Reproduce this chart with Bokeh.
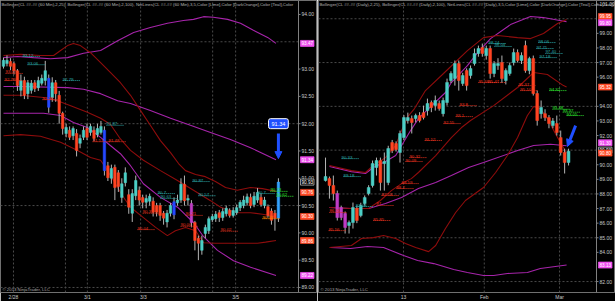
from bokeh.plotting import figure
from bokeh.layouts import row
from bokeh.models import (ColumnDataSource, FixedTicker, Label, Arrow, NormalHead, Range1d)
from bokeh.core.properties import value
from bokeh.embed import file_html
from bokeh.resources import INLINE

# ---------------- Left panel: 60 Min bars ----------------
L_open = [93.05, 93.10, 93.14, 93.10, 92.97, 92.61, 92.79, 92.55, 92.61, 92.75,
          92.66, 92.74, 92.79, 92.83, 92.48, 92.75, 92.52, 92.19, 91.82, 91.88,
          91.78, 91.82, 91.64, 91.75, 91.91, 91.84, 91.88, 91.80, 91.84, 91.88,
          91.23, 91.00, 91.20, 91.10, 90.65, 90.92, 90.70, 90.36, 90.68, 90.78,
          90.65, 90.56, 90.58, 90.58, 90.50, 90.50, 90.36, 90.20, 90.36, 90.33,
          90.55, 90.60, 90.89, 90.60, 90.54, 90.19, 89.90, 89.68, 89.99, 90.04,
          90.24, 90.26, 90.37, 90.28, 90.35, 90.41, 90.32, 90.37, 90.46, 90.50,
          90.55, 90.65, 90.52, 90.60, 90.65, 90.50, 90.48, 90.40, 90.36, 90.27]
L_high = [93.21, 93.25, 93.20, 93.14, 93.00, 92.90, 92.86, 92.80, 92.80, 92.80,
          92.86, 92.90, 93.15, 92.90, 92.85, 92.80, 92.60, 92.22, 92.00, 91.95,
          91.95, 91.90, 91.80, 91.95, 92.00, 92.00, 91.95, 92.00, 92.05, 91.95,
          91.30, 91.25, 91.25, 91.15, 91.00, 91.20, 90.80, 90.80, 91.05, 90.85,
          90.70, 90.70, 90.72, 90.65, 90.55, 90.55, 90.40, 90.42, 90.55, 90.65,
          90.70, 91.00, 91.05, 90.70, 90.60, 90.22, 89.95, 89.95, 90.15, 90.30,
          90.35, 90.40, 90.42, 90.45, 90.50, 90.45, 90.47, 90.52, 90.60, 90.68,
          90.72, 90.72, 90.75, 90.82, 90.72, 90.66, 90.52, 90.45, 90.42, 91.00]
L_low = [93.01, 93.05, 92.98, 92.90, 92.60, 92.50, 92.45, 92.45, 92.55, 92.58,
         92.60, 92.70, 92.70, 92.20, 92.40, 92.40, 92.00, 91.80, 91.75, 91.70,
         91.70, 91.40, 91.55, 91.70, 91.70, 91.78, 91.68, 91.75, 91.80, 91.05,
         90.95, 90.90, 90.60, 90.75, 90.55, 90.85, 90.35, 90.20, 90.60, 90.50,
         90.45, 90.45, 90.50, 90.30, 90.30, 90.22, 90.15, 90.10, 90.30, 90.25,
         90.50, 90.55, 90.50, 90.50, 90.10, 89.68, 89.50, 89.60, 89.90, 89.98,
         90.20, 90.20, 90.20, 90.22, 90.30, 90.28, 90.28, 90.33, 90.40, 90.45,
         90.50, 90.45, 90.47, 90.55, 90.48, 90.45, 90.28, 90.15, 90.04, 90.20]
L_close = [93.16, 93.16, 93.05, 92.97, 92.70, 92.79, 92.52, 92.75, 92.74, 92.64,
           92.79, 92.83, 92.97, 92.30, 92.75, 92.55, 92.19, 91.91, 91.93, 91.75,
           91.91, 91.51, 91.73, 91.88, 91.75, 91.95, 91.73, 91.91, 91.95, 91.14,
           91.01, 91.18, 90.83, 90.85, 90.90, 91.10, 90.47, 90.72, 90.96, 90.60,
           90.56, 90.63, 90.67, 90.38, 90.38, 90.32, 90.27, 90.36, 90.50, 90.57,
           90.60, 90.89, 90.59, 90.63, 90.19, 89.86, 89.81, 89.86, 90.10, 90.26,
           90.30, 90.34, 90.28, 90.39, 90.45, 90.32, 90.41, 90.46, 90.56, 90.60,
           90.66, 90.50, 90.67, 90.74, 90.52, 90.60, 90.32, 90.23, 90.27, 90.93]
L_kind = ["u", "u", "d", "d", "d", "u", "d", "u", "u", "d",
          "u", "u", "u", "b", "u", "d", "d", "d", "u", "d",
          "u", "d", "u", "u", "d", "u", "d", "u", "u", "b",
          "d", "u", "d", "d", "u", "u", "d", "u", "u", "d",
          "d", "u", "u", "d", "d", "d", "d", "u", "u", "b",
          "u", "u", "d", "u", "m", "d", "d", "u", "u", "u",
          "u", "u", "d", "u", "u", "d", "u", "u", "u", "u",
          "u", "d", "u", "u", "d", "u", "d", "d", "d", "s"]

L_ticks = [2.87, 24.1, 40.2, 66.7]
L_tick_labels = ["2/28", "3/1", "3/3", "3/5"]
L_vgrid = [2.87, 17.8, 24.1, 39.4, 60.1, 66.7]
L_yticks = [89.0, 89.5, 90.0, 90.5, 91.0, 91.5, 92.0, 92.5, 93.0, 93.5, 94.0]
L_hidden_yticks = [93.5]
L_hgrid = [89.0, 90.5, 92.0, 93.5]

# Bollinger (2,25) - dark red
L_bb25u_x = [0, 4.9, 10.6, 14.4, 16.4, 18.4, 20.1, 22.1, 25, 27.9, 30.7, 33.6, 36.5,
             39.4, 42.2, 45.1, 48, 50.3, 52.3, 55.2, 58, 60.9, 63.8, 67.2, 71, 74.4, 78.3]
L_bb25u_y = [93.25, 93.27, 93.25, 93.25, 93.34, 93.43, 93.47, 93.43, 93.30, 93.12, 92.94,
             92.75, 92.52, 92.24, 91.97, 91.69, 91.47, 91.27, 91.14, 91.07, 91.03, 90.94,
             90.83, 90.78, 90.83, 90.81, 90.76]
L_bb25m_x = [0, 4.9, 11.5, 15.5, 19.3, 24.1, 27.9, 30.7, 33.6, 36.5, 40.2, 45.1, 50,
             54.6, 59.5, 62.4, 67.2, 71, 74.4, 78.3]
L_bb25m_y = [92.52, 92.52, 92.48, 92.42, 92.33, 92.21, 92.10, 91.99, 91.72, 91.51, 91.33,
             91.14, 90.96, 90.78, 90.59, 90.47, 90.37, 90.37, 90.34, 90.30]
L_bb25l_x = [0, 4.9, 10.6, 16.4, 21.3, 25, 27.9, 29.3, 31.6, 34.2, 36.5, 40.2, 43.7,
             47.1, 49.4, 52.3, 55.2, 57.5, 60.9, 66.1, 73, 75.3, 78.3]
L_bb25l_y = [91.78, 91.80, 91.77, 91.66, 91.51, 91.38, 91.33, 91.20, 90.96, 90.68, 90.47,
             90.28, 90.10, 89.95, 90.04, 90.10, 90.04, 89.82, 89.81, 89.81, 89.81, 89.83, 89.86]
# Bollinger (2,100) - magenta
L_bb100u_x = [0, 4, 8.6, 13.5, 18.4, 23, 27.9, 32.8, 37.4, 42.2, 47.1, 51.7, 54.6,
              57.5, 60.3, 64.4, 68.1, 71.8, 75.9, 78.3]
L_bb100u_y = [93.21, 93.23, 93.21, 93.19, 93.21, 93.29, 93.34, 93.52, 93.67, 93.76, 93.84,
              93.89, 93.91, 93.96, 93.95, 93.91, 93.84, 93.71, 93.58, 93.47]
L_bb100m_x = [0, 4.9, 18.4, 23, 27.9, 32.8, 36.5, 42.2, 48, 53.7, 59.5, 65.2, 71, 78.3]
L_bb100m_y = [92.68, 92.68, 92.66, 92.63, 92.55, 92.42, 92.37, 92.24, 92.10, 91.97, 91.84,
              91.71, 91.56, 91.34]
L_bb100l_x = [0, 11.5, 16.4, 20.1, 24.1, 27.9, 30.7, 33.6, 36.5, 40.2, 45.1, 50, 54.6,
              57.5, 61.5, 66.1, 71, 78.3]
L_bb100l_y = [92.19, 92.19, 92.15, 92.02, 91.93, 91.75, 91.60, 91.45, 91.23, 90.90, 90.65,
              90.47, 90.19, 89.93, 89.68, 89.49, 89.37, 89.22]

L_marker_vals = [93.47, 91.34, 90.93, 90.76, 90.30, 89.86, 89.22]
L_marker_kind = ["bb100", "bb100", "last", "bb25", "bb25", "bb25", "bb100"]
L_marker_nudge_px = [0, 0, 0, 1, 0, 0, 0]

L_lab_x = [5.5, 6.9, 0.6, 0.3, 17.0, 11.2, 29.6, 25.6, 30.2, 44.3, 45.1, 54.3, 56.0,
           40.0, 38.5, 52.3, 50.9, 62.4, 73.0, 76.7, 78.4, 74.4]
L_lab_y = [93.23, 93.08, 92.92, 92.79, 92.79, 92.44, 91.97, 91.67, 91.67, 90.72, 90.63,
           90.94, 90.68, 90.36, 90.06, 90.32, 90.12, 90.03, 90.72, 90.76, 90.67, 90.26]
L_lab_t = ["93.12", "93.06", "93.03", "92.79", "92.79", "92.38", "91.87", "91.57", "91.48",
           "90.7", "90.63", "90.87", "90.57", "90.33", "90.04", "90.21", "90.06", "90.02",
           "90.7", "90.73", "90.62", "90.33"]
L_lab_k = ["teal", "teal", "red", "red", "teal", "red", "teal", "red", "red", "teal", "teal",
           "teal", "teal", "red", "red", "red", "red", "red", "teal", "lime", "lime", "orange"]

L_callout_text = "91.34"
L_callout_xy = (79.0, 92.0)
L_arrow = (79.0, 91.82, 79.0, 91.36)

L_title = ("Bollinger(CL ##-## (60 Min),2,25), Bollinger(CL ##-## (60 Min),2,100), "
           "NetLines(CL ##-## (60 Min),3,5,Color [Lime],Color [DarkOrange],Color [Teal],Color")

# ---------------- Right panel: Daily bars ----------------
R_open = [88.92, 89.05, 88.58, 88.03, 87.07, 86.66, 85.84, 86.04, 87.00, 86.52,
          87.34, 88.03, 88.58, 89.81, 90.29, 90.08, 88.78, 91.52, 91.45, 90.84,
          91.86, 93.03, 93.16, 93.16, 93.37, 93.57, 93.71, 94.26, 94.05, 94.19,
          93.50, 94.26, 95.77, 95.90, 96.93, 95.56, 96.45, 96.11, 96.93, 97.62,
          98.03, 97.48, 97.96, 96.25, 96.79, 97.00, 95.77, 96.25, 97.00, 97.68,
          97.14, 98.16, 96.45, 97.27, 94.88, 93.50, 93.50, 93.23, 92.68, 92.82,
          91.86, 90.84, 90.15]
R_high = [90.49, 89.19, 89.26, 88.23, 87.20, 86.80, 86.18, 87.41, 87.20, 87.40,
          87.90, 88.60, 90.29, 90.49, 90.49, 90.84, 91.30, 91.70, 91.60, 92.34,
          93.40, 93.57, 93.37, 93.50, 93.60, 94.05, 94.53, 94.40, 94.74, 94.40,
          94.60, 95.90, 96.40, 97.14, 97.14, 96.30, 96.60, 96.80, 97.96, 98.16,
          98.30, 98.16, 98.16, 97.10, 97.30, 97.48, 96.60, 97.00, 97.96, 97.90,
          97.70, 98.50, 97.40, 97.48, 95.08, 94.40, 93.80, 93.40, 93.20, 93.37,
          92.34, 91.10, 91.10]
R_low = [88.85, 87.68, 87.55, 86.18, 86.20, 85.29, 85.29, 85.63, 86.00, 86.40,
         87.20, 87.90, 88.44, 89.26, 88.23, 88.23, 88.60, 90.80, 90.90, 90.15,
         91.70, 92.82, 92.14, 92.90, 92.90, 93.10, 93.37, 93.60, 93.71, 93.70,
         93.30, 94.05, 95.60, 95.42, 95.08, 95.40, 95.08, 95.90, 96.79, 97.40,
         97.40, 97.20, 95.90, 96.00, 96.50, 95.60, 95.50, 96.10, 96.80, 97.00,
         96.90, 96.30, 96.20, 94.74, 92.68, 93.16, 93.00, 92.50, 92.50, 92.00,
         90.63, 89.40, 89.95]
R_close = [89.19, 88.58, 88.03, 86.38, 86.38, 85.70, 86.04, 87.07, 86.18, 87.21,
           87.75, 88.44, 90.08, 90.29, 88.78, 90.22, 91.11, 90.97, 91.04, 92.14,
           93.23, 93.23, 92.89, 93.37, 93.03, 93.23, 94.19, 93.92, 94.40, 93.85,
           94.40, 95.63, 96.25, 96.93, 95.77, 96.11, 95.42, 96.59, 97.62, 97.96,
           97.62, 97.96, 96.25, 96.93, 96.93, 95.90, 96.45, 96.79, 97.68, 97.14,
           97.48, 96.45, 97.27, 94.88, 93.03, 93.92, 93.23, 92.82, 93.00, 92.21,
           90.84, 90.15, 90.93]
R_kind = ["u", "d", "d", "m", "m", "m", "u", "u", "d", "u",
          "u", "u", "u", "u", "d", "u", "u", "d", "d", "u",
          "u", "u", "d", "u", "d", "d", "u", "d", "u", "d",
          "u", "u", "u", "u", "d", "u", "d", "u", "u", "u",
          "d", "u", "d", "u", "u", "d", "u", "u", "u", "d",
          "u", "d", "u", "d", "d", "u", "d", "d", "u", "d",
          "d", "d", "u"]

R_ticks = [19.9, 40.5, 59.7]
R_tick_labels = ["13", "Feb", "Mar"]
R_vgrid = [19.9, 40.5, 59.7]
R_yticks = list(range(82, 102))
R_hidden_yticks = [100, 95, 91, 83]
R_hgrid = [82, 85, 88, 91, 94, 97, 100]

R_bb25u_x = [1.0, 6.6, 10.2, 12.2, 15.3, 17.9, 19.4, 21.2, 22.7, 25.5, 30.1, 36.2, 40.3,
             43.9, 49, 52.3, 55.6, 59.2, 61.5]
R_bb25u_y = [89.95, 89.60, 89.47, 89.95, 90.49, 91.32, 92.34, 93.37, 93.85, 95.08, 96.25,
             97.82, 98.71, 98.85, 98.71, 98.64, 98.99, 99.67, 99.95]
R_bb25m_x = [1.0, 6.6, 11.0, 14.0, 16.8, 19.4, 21.9, 23.7, 28.1, 32.1, 34.7, 37.0, 42.9,
             49, 53.1, 56.6, 60.7, 61.5]
R_bb25m_y = [87.07, 87.00, 87.00, 87.55, 88.23, 88.71, 89.05, 89.47, 90.63, 91.86, 92.55,
             93.03, 94.05, 95.29, 96.32, 96.18, 95.42, 95.32]
R_bb25l_x = [1.0, 6.6, 9.2, 12.2, 14.8, 17.9, 20.4, 23.0, 26.3, 28.1, 30.6, 33.2, 35.7,
             40.3, 43.4, 46.4, 49, 51.5, 53.1, 54.8, 56.6, 58.9, 61.5]
R_bb25l_y = [84.33, 84.47, 84.95, 85.01, 85.15, 84.95, 84.60, 84.33, 84.05, 84.47, 85.63,
             86.73, 87.55, 88.44, 89.47, 90.63, 91.86, 93.37, 93.99, 93.85, 93.16, 92.00, 90.80]
R_bb100u_x = [1.0, 6.6, 10.2, 12.2, 15.3, 17.9, 19.4, 21.7, 23.7, 26.3, 30.6, 32.1, 36.2,
              38.8, 42.1, 47.2, 52.3, 55.6, 61.5]
R_bb100u_y = [89.88, 89.53, 89.40, 89.81, 90.22, 90.63, 91.32, 92.34, 93.16, 93.85, 94.95,
              95.63, 96.79, 97.68, 98.64, 99.60, 100.15, 100.08, 99.80]
R_bb100m_x = [1.0, 6.6, 11.0, 15.3, 19.4, 23.7, 28.1, 32.1, 36.5, 40.3, 49, 53.1, 57.4, 61.5]
R_bb100m_y = [87.07, 87.00, 87.00, 87.34, 87.75, 88.37, 88.78, 89.26, 89.81, 90.15, 90.97,
              91.32, 91.40, 91.30]
R_bb100l_x = [1.3, 6.4, 10.7, 14.8, 19.9, 23.5, 27.6, 32.7, 36.2, 40.3, 42.9, 46.4, 51.5,
              54.8, 61.5]
R_bb100l_y = [84.33, 84.26, 84.40, 84.33, 83.78, 83.44, 83.23, 82.82, 82.62, 82.41, 82.41,
              82.55, 82.62, 82.89, 83.13]

R_marker_vals = [99.95, 99.80, 95.32, 91.30, 90.93, 90.80, 83.13]
R_marker_kind = ["bb25", "bb100", "bb25", "bb100", "last", "bb25", "bb100"]
R_marker_nudge_px = [-3, 1, 0, -3, -1, 0, 0]

R_lab_x = [4.1, 4.6, 1.0, 0.8, 7.7, 12.2, 13.0, 14.3, 18.1, 19.4, 20.4, 21.4, 25.3, 30.1,
           33.2, 34.2, 41.6, 43.1, 54.3, 53.8, 56.1, 54.6, 39.0, 41.5, 49.2, 49.7, 57.1,
           57.9, 60.5, 61.5]
R_lab_y = [90.42, 89.19, 86.73, 85.49, 87.14, 86.18, 87.21, 87.89, 88.37, 88.71, 90.22,
           90.49, 91.66, 92.82, 93.30, 94.05, 98.30, 98.10, 98.37, 97.96, 97.62, 97.34,
           95.63, 95.63, 95.42, 95.08, 95.08, 93.80, 93.60, 93.37]
R_lab_t = ["90.33", "89.18", "86.96", "85.56", "87.09", "85.85", "87", "87.58", "88.2",
           "88.59", "90.09", "90.32", "91.52", "92.55", "93.1", "93.8", "98.24", "98.04",
           "98.06", "97.71", "97.40", "97.18", "95.68", "95.47", "95.37", "95.10", "94.32",
           "93.48", "93.37", "93.05"]
R_lab_k = ["teal", "teal", "red", "red", "teal", "red", "red", "red", "red", "red", "red",
           "red", "red", "red", "red", "red", "teal", "teal", "teal", "teal", "teal", "teal",
           "red", "red", "red", "red", "lime", "lime", "lime", "lime"]

R_arrow = (63.8, 92.68, 61.7, 91.25)

R_title = ("Bollinger(CL ##-## (Daily),2,25), Bollinger(CL ##-## (Daily),2,100), "
           "NetLines(CL ##-## (Daily),3,5,Color [Lime],Color [DarkOrange],Color [Teal],Color [Teal])")

COPYRIGHT = "\u00a9 2013 NinjaTrader, LLC"

# ---------------- styling ----------------
FONT = "Liberation Sans"
CANDLE = {"u": "#4ccfc6", "d": "#ff4422", "b": "#2548ff", "m": "#c03cc6", "s": "#33a2ff"}
LABEL_COL = {"teal": "#2aa8a8", "red": "#e8321e", "lime": "#2ee82e", "orange": "#ff8c00"}
RED_BAND = "#8e0c0c"
MAG_BAND = "#a624aa"
MARKER_BG = {"bb25": "#ff4a26", "bb100": "#f050f0", "last": "#000000"}
MARKER_BORDER = {"bb25": "#ff4a26", "bb100": "#f050f0", "last": "#d0d0d0"}
GRID = "#4a4a4a"
AXIS = "#808080"


def make_panel(o, h, l, c, kind, x0, px_per_bar, plot_px, axis_px, yr, left_border,
               ticks, tick_labels, vgrid, yticks, hidden, hgrid,
               bands, markers, mkinds, mnudge, labx, laby, labt, labk, title):
    x_plot_end = x0 + plot_px / px_per_bar
    xr = Range1d(x0, x0 + (plot_px + axis_px) / px_per_bar)
    p = figure(x_range=xr, y_range=yr, frame_width=plot_px + axis_px, frame_height=292,
               min_border_left=left_border, min_border_right=0, min_border_top=0,
               min_border_bottom=9, y_axis_location=None,
               output_backend="svg", toolbar_location=None)
    p.background_fill_color = "#000000"
    p.border_fill_color = "#000000"
    p.outline_line_color = "#707070"
    p.xgrid.visible = False
    p.ygrid.visible = False

    # dashed grid limited to the price area
    p.segment(x0=vgrid, x1=vgrid, y0=[yr.start] * len(vgrid), y1=[yr.end] * len(vgrid),
              line_color=GRID, line_dash="2 2", line_width=1)
    p.segment(x0=[x0] * len(hgrid), x1=[x_plot_end] * len(hgrid), y0=hgrid, y1=hgrid,
              line_color=GRID, line_dash="2 2", line_width=1)

    # x axis (bottom)
    xa = p.xaxis[0]
    xa.ticker = FixedTicker(ticks=ticks)
    xa.major_label_overrides = dict(zip(ticks, tick_labels))
    xa.major_label_text_font = FONT
    xa.major_label_text_font_size = "5px"
    xa.major_label_text_color = "#c8c8c8"
    xa.axis_line_color = None
    xa.major_tick_line_color = None
    xa.major_tick_out = 0
    xa.minor_tick_line_color = None
    xa.major_label_standoff = 1

    # bands
    for bx, by, col in bands:
        p.line(bx, by, line_color=col, line_width=1.1)

    # candles
    idx = list(range(len(o)))
    src = ColumnDataSource(dict(
        x=idx, h=h, l=l,
        top=[max(a, b) for a, b in zip(o, c)],
        bot=[min(a, b) for a, b in zip(o, c)],
        col=[CANDLE[k] for k in kind]))
    p.segment(x0="x", y0="l", x1="x", y1="h", source=src, line_color="#b4b4b4", line_width=1)
    p.vbar(x="x", top="top", bottom="bot", width=0.72, source=src,
           fill_color="col", line_color="col", line_width=0.5)

    # NetLines labels with dotted underline
    lab_len = 18.0 / px_per_bar
    lsrc = ColumnDataSource(dict(
        x=labx, y=laby, x1=[v + lab_len for v in labx], t=labt,
        col=[LABEL_COL[k] for k in labk]))
    p.segment(x0="x", y0="y", x1="x1", y1="y", source=lsrc, line_color="col",
              line_width=1, line_dash="1 1")
    p.text(x="x", y="y", text="t", source=lsrc, text_color="col",
           text_font=value(FONT), text_font_size=value("4.3px"),
           text_baseline="bottom", text_align="left")

    # price axis drawn at the right edge of the price area
    shown = [t for t in yticks if t not in hidden]
    tick_len = 2.0 / px_per_bar
    p.segment(x0=[x_plot_end], x1=[x_plot_end], y0=[yr.start], y1=[yr.end],
              line_color=AXIS, line_width=1)
    p.segment(x0=[x_plot_end] * len(shown), x1=[x_plot_end + tick_len] * len(shown),
              y0=shown, y1=shown, line_color=AXIS, line_width=1)
    p.text(x=[x_plot_end] * len(shown), y=shown, text=[f"{t:.2f}" for t in shown],
           text_color="#c8c8c8", text_font=value(FONT), text_font_size=value("5px"),
           text_baseline="middle", text_align="left", x_offset=3)

    # coloured price markers on the axis
    msrc = ColumnDataSource(dict(
        x=[x_plot_end] * len(markers), y=markers, t=[f"{v:.2f}" for v in markers],
        dy=mnudge,
        bg=[MARKER_BG[k] for k in mkinds], bd=[MARKER_BORDER[k] for k in mkinds]))
    p.text(x="x", y="y", text="t", source=msrc, text_color="#ffffff",
           text_font=value(FONT), text_font_size=value("4.6px"),
           text_baseline="middle", text_align="left", x_offset=2, y_offset="dy",
           background_fill_color="bg", border_line_color="bd", border_line_width=0.7,
           padding=1)

    # title and copyright
    p.text(x=[x0], y=[yr.end], text=[title], text_color="#b4b4b4",
           text_font=value(FONT), text_font_size=value("4.3px"),
           text_baseline="top", text_align="left", x_offset=1, y_offset=1)
    p.text(x=[x0], y=[yr.start], text=[COPYRIGHT], text_color="#a8a8a8",
           text_font=value(FONT), text_font_size=value("4.3px"),
           text_baseline="bottom", text_align="left", x_offset=2, y_offset=-1)
    return p


pL = make_panel(L_open, L_high, L_low, L_close, L_kind, -0.862, 3.48, 298, 19,
                Range1d(88.908, 94.256), 0,
                L_ticks, L_tick_labels, L_vgrid, L_yticks, L_hidden_yticks, L_hgrid,
                [(L_bb100u_x, L_bb100u_y, MAG_BAND), (L_bb100m_x, L_bb100m_y, MAG_BAND),
                 (L_bb100l_x, L_bb100l_y, MAG_BAND), (L_bb25u_x, L_bb25u_y, RED_BAND),
                 (L_bb25m_x, L_bb25m_y, RED_BAND), (L_bb25l_x, L_bb25l_y, RED_BAND)],
                L_marker_vals, L_marker_kind, L_marker_nudge_px,
                L_lab_x, L_lab_y, L_lab_t, L_lab_k, L_title)

pR = make_panel(R_open, R_high, R_low, R_close, R_kind, -1.79, 3.92, 278, 19,
                Range1d(81.25, 101.25), 1,
                R_ticks, R_tick_labels, R_vgrid, R_yticks, R_hidden_yticks, R_hgrid,
                [(R_bb100u_x, R_bb100u_y, MAG_BAND), (R_bb100m_x, R_bb100m_y, MAG_BAND),
                 (R_bb100l_x, R_bb100l_y, MAG_BAND), (R_bb25u_x, R_bb25u_y, RED_BAND),
                 (R_bb25m_x, R_bb25m_y, RED_BAND), (R_bb25l_x, R_bb25l_y, RED_BAND)],
                R_marker_vals, R_marker_kind, R_marker_nudge_px,
                R_lab_x, R_lab_y, R_lab_t, R_lab_k, R_title)

# annotations: callout and arrows
BLUE = "#1f4fff"
pL.add_layout(Label(x=L_callout_xy[0], y=L_callout_xy[1], text=L_callout_text,
                    text_font=FONT, text_font_size="5.5px", text_color="#ffffff",
                    text_align="center", text_baseline="middle",
                    background_fill_color=BLUE, border_line_color="#ffffff",
                    border_line_width=1, padding=3, border_radius=2))
pL.add_layout(Arrow(x_start=L_arrow[0], y_start=L_arrow[1], x_end=L_arrow[2], y_end=L_arrow[3],
                    line_color=BLUE, line_width=3,
                    end=NormalHead(size=7, fill_color=BLUE, line_color=BLUE)))
pR.add_layout(Arrow(x_start=R_arrow[0], y_start=R_arrow[1], x_end=R_arrow[2], y_end=R_arrow[3],
                    line_color=BLUE, line_width=3,
                    end=NormalHead(size=7, fill_color=BLUE, line_color=BLUE)))

layout = row(pL, pR, spacing=0)
open("out.html", "w").write(file_html(layout, INLINE))
